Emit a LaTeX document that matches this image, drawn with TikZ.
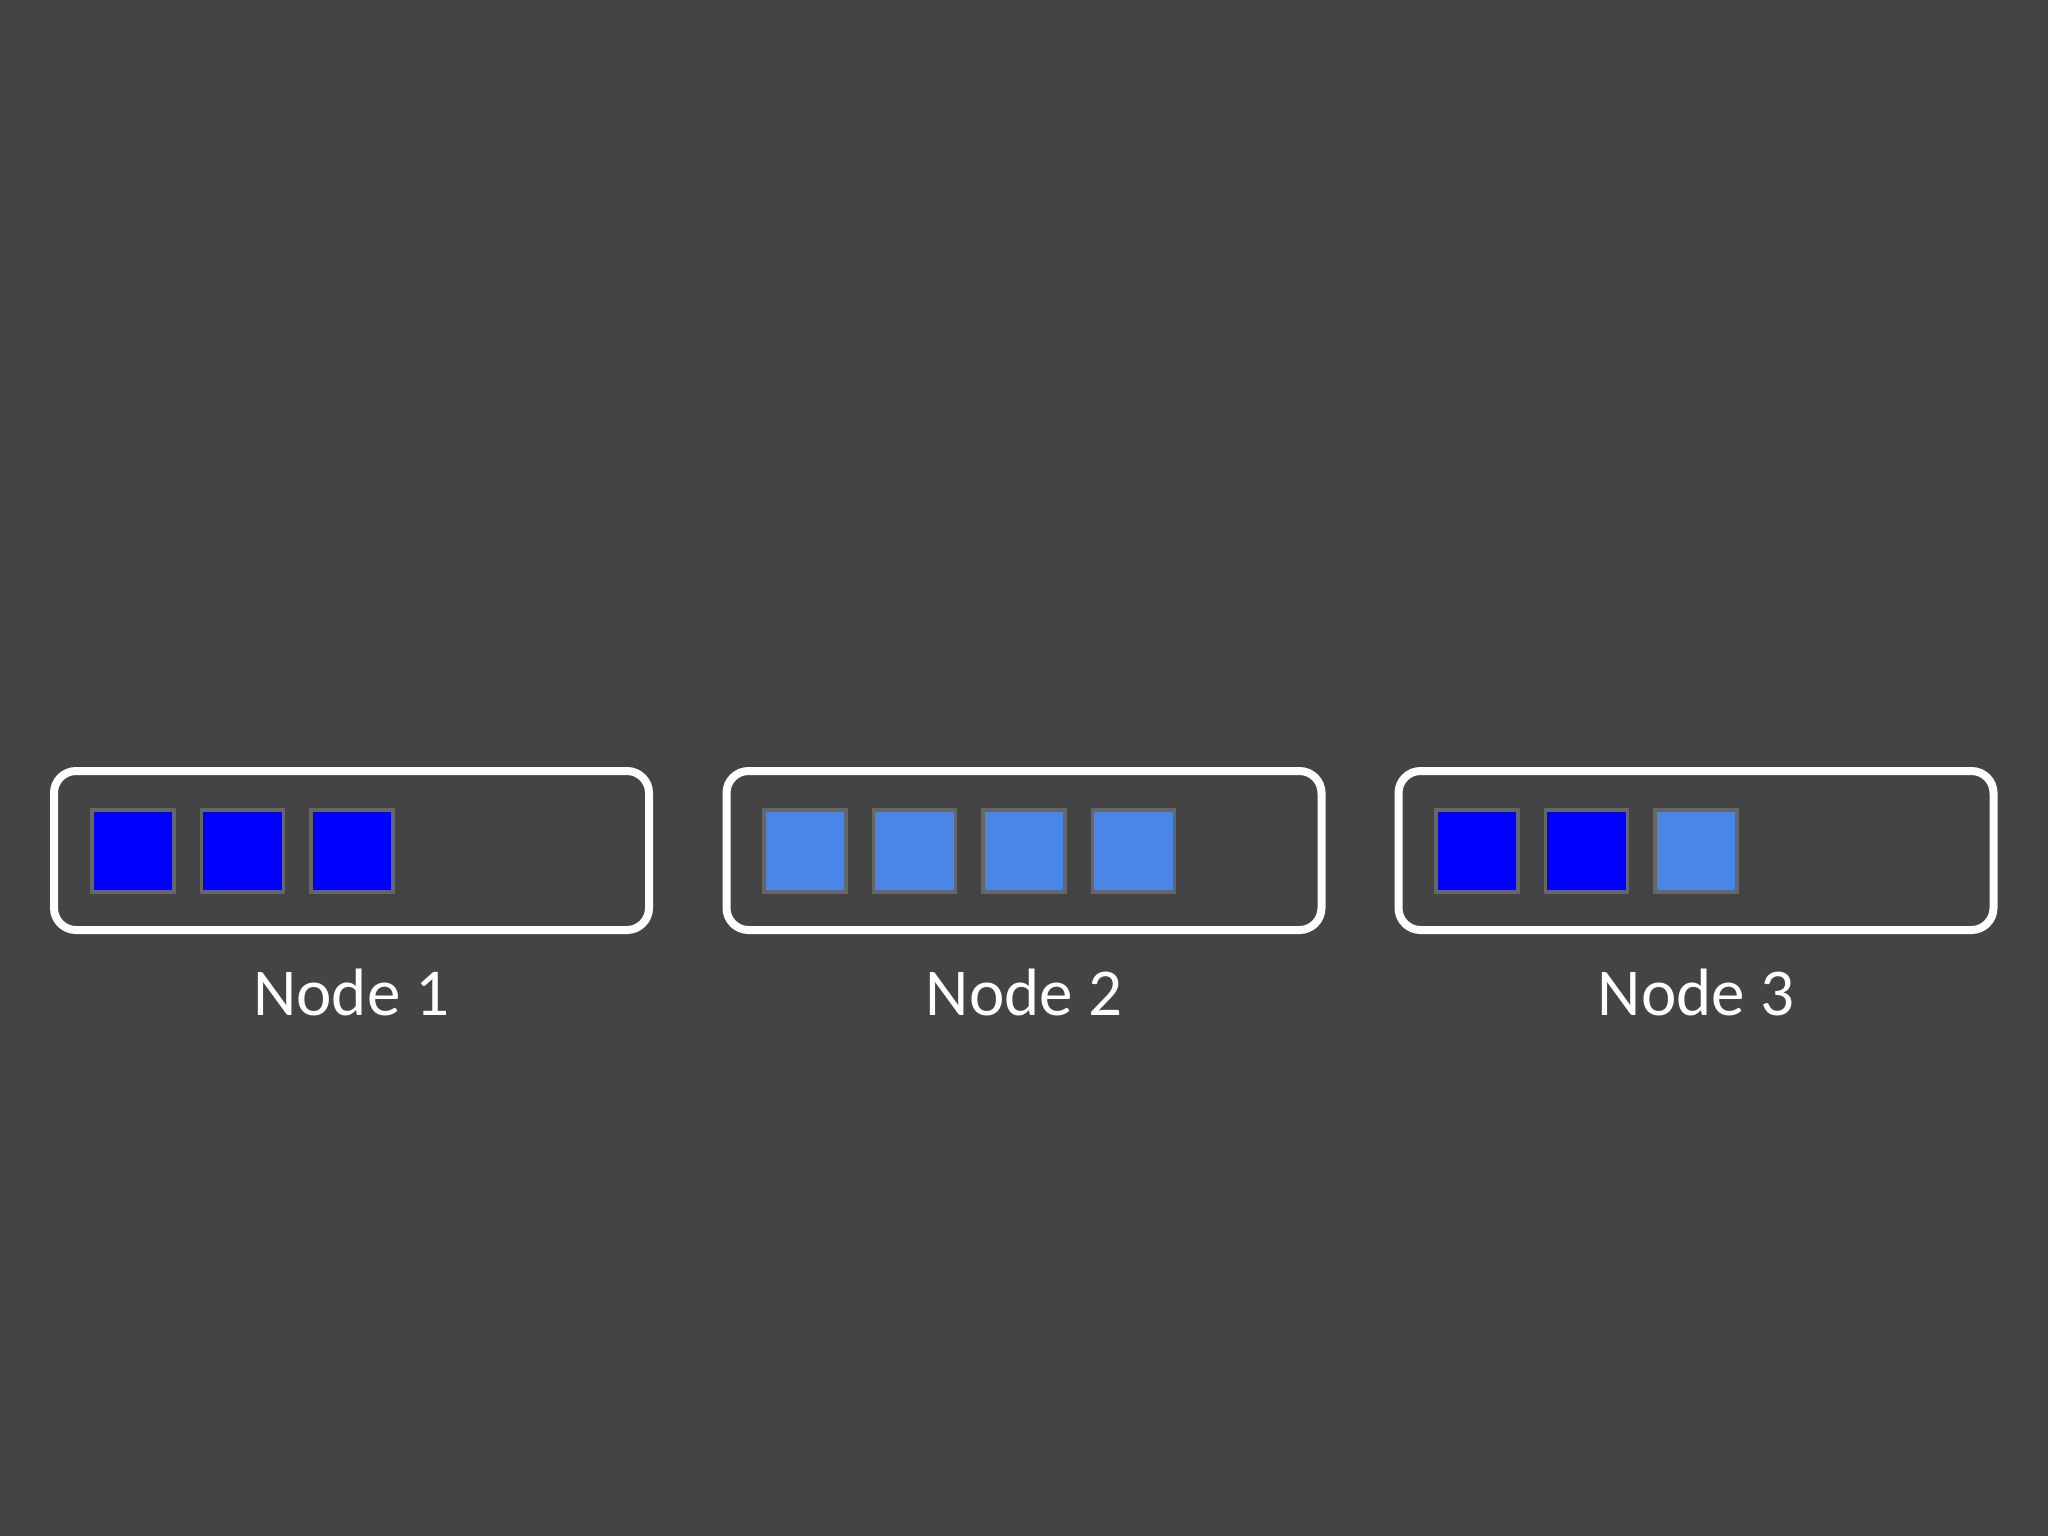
\documentclass[tikz,border=0pt]{standalone}
\usepackage{fontspec}
\setmainfont{Carlito}
\definecolor{bgc}{HTML}{444445}
\definecolor{dblue}{HTML}{0000FF}
\definecolor{lblue}{HTML}{4A86E8}
\definecolor{sqborder}{HTML}{666666}
\begin{document}
\begin{tikzpicture}[x=1pt,y=-1pt,
  nodebox/.style={draw=white, line width=8pt, rounded corners=22pt, minimum width=595pt, minimum height=159pt, inner sep=0pt, outer sep=0pt},
  slot/.style={draw=sqborder, line width=3.5pt, minimum size=82pt, inner sep=0pt, outer sep=0pt},
  dslot/.style={slot, fill=dblue},
  lslot/.style={slot, fill=lblue},
  lbl/.style={text=white, font=\fontsize{67}{80}\selectfont, anchor=base, inner sep=0pt}]
\fill[bgc] (0,0) rectangle (2048,1536);
\useasboundingbox (0,0) rectangle (2048,1536);
% boxes
\node[nodebox] (b1) at (351.5,850.5) {};
\node[nodebox] (b2) at (1024,850.5) {};
\node[nodebox] (b3) at (1696,850.5) {};
% node 1
\node[dslot] (s11) at (133,851) {};
\node[dslot] (s12) at (242.5,851) {};
\node[dslot] (s13) at (352,851) {};
% node 2
\node[lslot] (s21) at (805,851) {};
\node[lslot] (s22) at (914.5,851) {};
\node[lslot] (s23) at (1024,851) {};
\node[lslot] (s24) at (1133.5,851) {};
% node 3
\node[dslot] (s31) at (1477,851) {};
\node[dslot] (s32) at (1586.5,851) {};
\node[lslot] (s33) at (1696,851) {};
% labels
\node[lbl] (l1) at (351.5,1015) {Node 1};
\node[lbl] (l2) at (1024,1015) {Node 2};
\node[lbl] (l3) at (1696,1015) {Node 3};
\end{tikzpicture}
\end{document}
